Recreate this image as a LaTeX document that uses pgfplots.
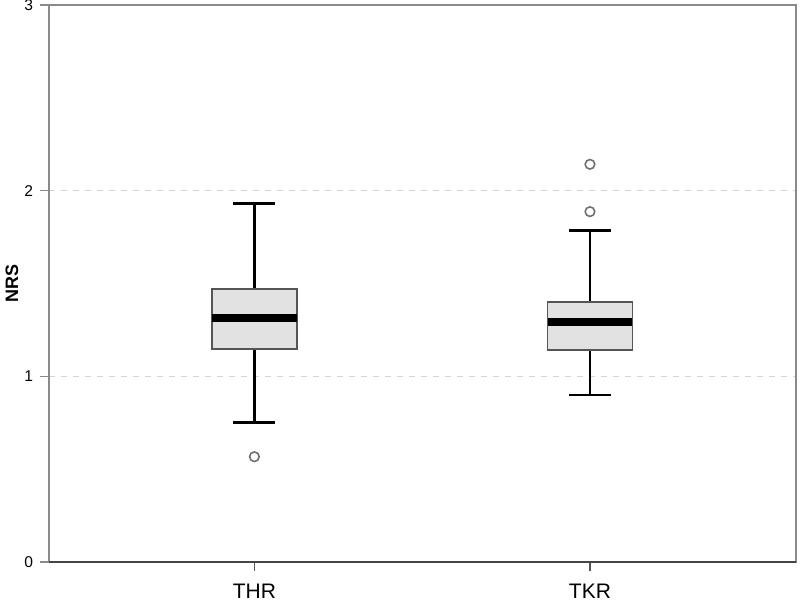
\documentclass[border=0pt]{standalone}
\usepackage{fontspec}
\setmainfont{Liberation Sans}
\usepackage{pgfplots}
\pgfplotsset{compat=1.18}
\usepgfplotslibrary{statistics}
\definecolor{boxfill}{HTML}{E2E2E2}
\definecolor{boxedge}{HTML}{555555}
\definecolor{axisgray}{HTML}{8A8A8A}
\definecolor{gridgray}{HTML}{D4D4D4}
\definecolor{outl}{HTML}{707070}
\begin{document}
\begin{tikzpicture}
\begin{axis}[
  name=ax,
  scale only axis,
  width=373.5pt, height=278.5pt,
  xmin=0.388, xmax=2.614,
  ymin=0, ymax=3,
  xtick={1,2}, xticklabels={THR,TKR},
  ytick={0,1,2,3},
  xtick pos=bottom, ytick pos=left,
  tick align=outside,
  xtick style={draw=boxedge, line width=0.8pt},
  ytick style={draw=axisgray, line width=0.8pt},
  major tick length=4.5pt,
  axis line style={draw=axisgray, line width=0.8pt},
  x tick label style={font=\fontsize{10.5}{12}\selectfont, yshift=-3pt},
  y tick label style={font=\fontsize{7.8}{9}\selectfont, /pgf/number format/assume math mode=true},
  ylabel={\textbf{NRS}},
  ylabel style={font=\fontsize{9}{11}\selectfont, at={(rel axis cs:0,0.5)}, anchor=center, yshift=18.5pt},
  ymajorgrids,
  grid style={gridgray, dashed, line width=0.6pt},
  boxplot/draw direction=y,
  boxplot/box extend=0.253,
  boxplot/whisker extend=0.125,
  boxplot/every box/.style={draw=boxedge, line width=0.8pt, fill=boxfill},
  boxplot/every whisker/.style={draw=black, line width=1.3pt},
  boxplot/every median/.style={draw=black, line width=4pt},
]
\addplot[boxplot prepared={draw position=1,
    lower whisker=0.750, lower quartile=1.146, median=1.316,
    upper quartile=1.470, upper whisker=1.932},
  mark=o, mark size=2.4pt, mark options={draw=outl, line width=0.8pt, fill=boxfill}]
  coordinates {(0,0.567)};
\addplot[boxplot prepared={draw position=2,
    lower whisker=0.899, lower quartile=1.142, median=1.294,
    upper quartile=1.399, upper whisker=1.784},
  mark=o, mark size=2.4pt, mark options={draw=outl, line width=0.8pt, fill=boxfill}]
  coordinates {(0,1.887) (0,2.142)};
\draw[draw=boxedge!80!black, line width=1pt] (rel axis cs:0,0) -- (rel axis cs:1,0);
\end{axis}
\pgfresetboundingbox
\useasboundingbox ([shift={(-24.5pt,-22pt)}]ax.south west) rectangle ([shift={(2pt,2.5pt)}]ax.north east);
\end{tikzpicture}
\end{document}
